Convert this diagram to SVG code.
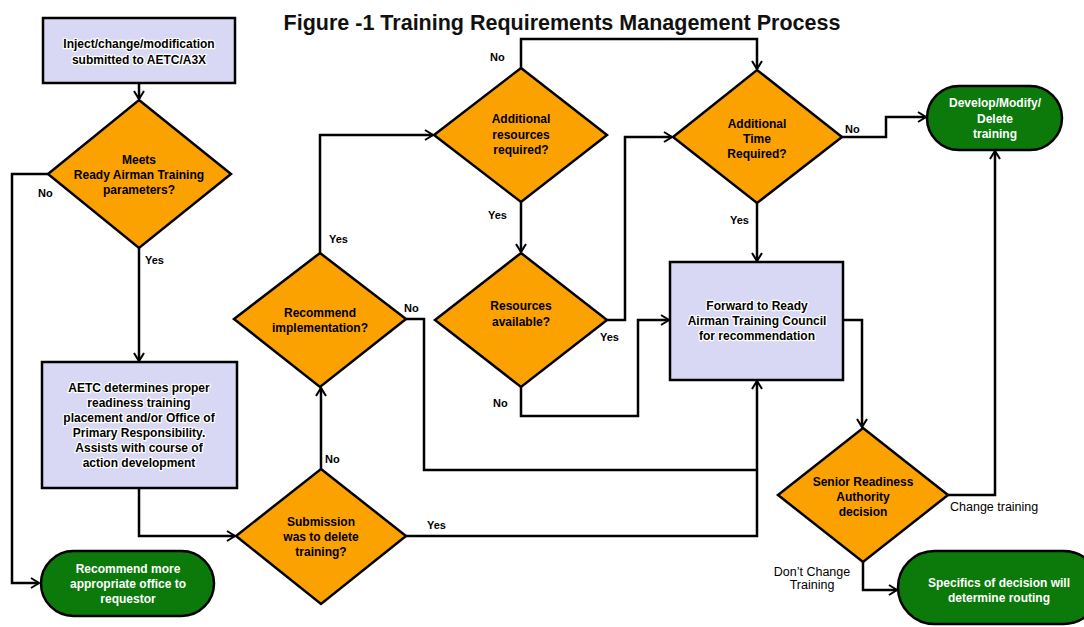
<svg xmlns="http://www.w3.org/2000/svg" width="1084" height="627" viewBox="0 0 1084 627">
<defs>
<style>
.box{fill:#d8d8f4;stroke:#000;stroke-width:2.5}
.dia{fill:#fba200;stroke:#000;stroke-width:2.5}
.pill{fill:#0b7a0b;stroke:#000;stroke-width:2.5}
.t{font-family:"Liberation Sans",Arial,sans-serif;font-weight:bold;font-size:12px;text-anchor:middle}
.bt{fill:#000;stroke:#fff;stroke-width:2.5;paint-order:stroke;stroke-linejoin:round}
.dt{fill:#000}
.pt{fill:#fff}
.lbl{font-family:"Liberation Sans",Arial,sans-serif;font-weight:bold;font-size:11px;fill:#000}
.lbl2{font-family:"Liberation Sans",Arial,sans-serif;font-size:12.5px;fill:#000}
.c{fill:none;stroke:#000;stroke-width:2.5}
.title{font-family:"Liberation Sans",Arial,sans-serif;font-weight:bold;font-size:21.5px;fill:#111}
</style>
<marker id="ah" markerUnits="userSpaceOnUse" markerWidth="14" markerHeight="14" refX="10" refY="6" orient="auto">
<path d="M2,1 L10,6 L2,11" fill="none" stroke="#000" stroke-width="2"/>
</marker>
</defs>
<rect width="1084" height="627" fill="#fff"/>
<text class="title" x="562" y="30" text-anchor="middle">Figure -1 Training Requirements Management Process</text>

<g id="connectors">
<path class="c" d="M139,83 V99" marker-end="url(#ah)"/>
<path class="c" d="M48,174 H12 V583 H39" marker-end="url(#ah)"/>
<path class="c" d="M139,248 V361" marker-end="url(#ah)"/>
<path class="c" d="M139,488 V536 H235" marker-end="url(#ah)"/>
<path class="c" d="M321,469 V388" marker-end="url(#ah)"/>
<path class="c" d="M320,253 V135 H433" marker-end="url(#ah)"/>
<path class="c" d="M521,68 V39 H757 V69" marker-end="url(#ah)"/>
<path class="c" d="M521,202 V252" marker-end="url(#ah)"/>
<path class="c" d="M607,320 H625 V137 H672" marker-end="url(#ah)"/>
<path class="c" d="M521,387 V416 H638 V320 H669" marker-end="url(#ah)"/>
<path class="c" d="M406,319 H424 V470 H757"/>
<path class="c" d="M406,536 H757 V381" marker-end="url(#ah)"/>
<path class="c" d="M757,203 V261" marker-end="url(#ah)"/>
<path class="c" d="M842,137 H886 V117 H926" marker-end="url(#ah)"/>
<path class="c" d="M843,320 H862 V427" marker-end="url(#ah)"/>
<path class="c" d="M948,495 H995 V151" marker-end="url(#ah)"/>
<path class="c" d="M863,562 V590 H897" marker-end="url(#ah)"/>
<text class="lbl" x="38" y="197">No</text>
<text class="lbl" x="145" y="264">Yes</text>
<text class="lbl" x="490" y="61">No</text>
<text class="lbl" x="488" y="219">Yes</text>
<text class="lbl" x="329" y="243">Yes</text>
<text class="lbl" x="404" y="312">No</text>
<text class="lbl" x="600" y="341">Yes</text>
<text class="lbl" x="493" y="407">No</text>
<text class="lbl" x="325" y="463">No</text>
<text class="lbl" x="427" y="529">Yes</text>
<text class="lbl" x="845" y="133">No</text>
<text class="lbl" x="730" y="224">Yes</text>
<text class="lbl2" x="950" y="511">Change training</text>
<text class="lbl2" x="812" y="576" text-anchor="middle">Don’t Change</text>
<text class="lbl2" x="812" y="589" text-anchor="middle">Training</text>
</g>

<g id="n-inject">
<rect class="box" x="43" y="18" width="192" height="65"/>
<text class="t bt" x="139" y="48">Inject/change/modification</text>
<text class="t bt" x="139" y="64">submitted to AETC/A3X</text>
</g>

<g id="n-meets">
<polygon class="dia" points="139,100 231,174 139,248 48,174"/>
<text class="t dt" x="139" y="164">Meets</text>
<text class="t dt" x="139" y="179">Ready Airman Training</text>
<text class="t dt" x="139" y="194">parameters?</text>
</g>

<g id="n-aetc">
<rect class="box" x="42" y="362" width="195" height="126"/>
<text class="t bt" x="139" y="392">AETC determines proper</text>
<text class="t bt" x="139" y="407">readiness training</text>
<text class="t bt" x="139" y="422">placement and/or Office of</text>
<text class="t bt" x="139" y="437">Primary Responsibility.</text>
<text class="t bt" x="139" y="452">Assists with course of</text>
<text class="t bt" x="139" y="467">action development</text>
</g>

<g id="n-recommend-office">
<rect class="pill" x="41" y="551" width="173" height="65" rx="32.5"/>
<text class="t pt" x="128" y="573">Recommend more</text>
<text class="t pt" x="128" y="588">appropriate office to</text>
<text class="t pt" x="128" y="603">requestor</text>
</g>

<g id="n-submission">
<polygon class="dia" points="321,469 406,536 321,604 236,536"/>
<text class="t dt" x="321" y="526">Submission</text>
<text class="t dt" x="321" y="541">was to delete</text>
<text class="t dt" x="321" y="556">training?</text>
</g>

<g id="n-recommend-impl">
<polygon class="dia" points="320,253 406,319 320,387 234,319"/>
<text class="t dt" x="320" y="317">Recommend</text>
<text class="t dt" x="320" y="332">implementation?</text>
</g>

<g id="n-add-resources">
<polygon class="dia" points="521,68 607,135 521,202 434,135"/>
<text class="t dt" x="521" y="123">Additional</text>
<text class="t dt" x="521" y="139">resources</text>
<text class="t dt" x="521" y="154">required?</text>
</g>

<g id="n-resources-avail">
<polygon class="dia" points="521,253 607,320 521,387 435,320"/>
<text class="t dt" x="521" y="310">Resources</text>
<text class="t dt" x="521" y="326">available?</text>
</g>

<g id="n-add-time">
<polygon class="dia" points="757,70 842,137 757,203 673,137"/>
<text class="t dt" x="757" y="128">Additional</text>
<text class="t dt" x="757" y="143">Time</text>
<text class="t dt" x="757" y="158">Required?</text>
</g>

<g id="n-develop">
<rect class="pill" x="927" y="86" width="135" height="64" rx="32"/>
<text class="t pt" x="995" y="107">Develop/Modify/</text>
<text class="t pt" x="995" y="123">Delete</text>
<text class="t pt" x="995" y="138">training</text>
</g>

<g id="n-forward">
<rect class="box" x="670" y="262" width="173" height="118"/>
<text class="t bt" x="757" y="310">Forward to Ready</text>
<text class="t bt" x="757" y="325">Airman Training Council</text>
<text class="t bt" x="757" y="340">for recommendation</text>
</g>

<g id="n-senior">
<polygon class="dia" points="863,428 948,495 863,562 778,495"/>
<text class="t dt" x="863" y="486">Senior Readiness</text>
<text class="t dt" x="863" y="501">Authority</text>
<text class="t dt" x="863" y="516">decision</text>
</g>

<g id="n-specifics">
<rect class="pill" x="898" y="551" width="202" height="73" rx="36.5"/>
<text class="t pt" x="999" y="587">Specifics of decision will</text>
<text class="t pt" x="999" y="602">determine routing</text>
</g>
</svg>
